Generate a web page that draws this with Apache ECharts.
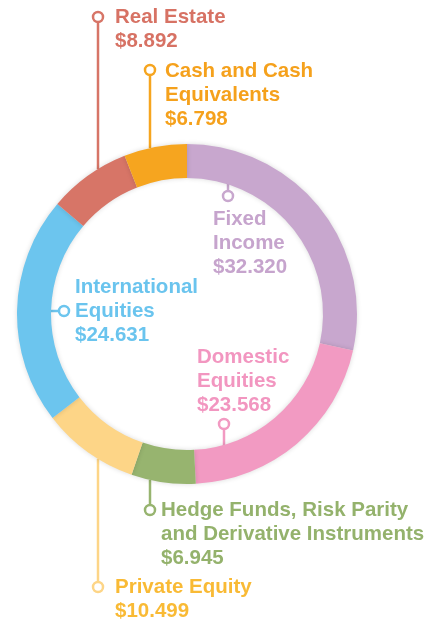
<!DOCTYPE html>
<html>
<head>
<meta charset="utf-8">
<script src="https://cdn.jsdelivr.net/npm/echarts@6/dist/echarts.min.js"></script>
<style>
  html, body { margin: 0; padding: 0; background: #fff; }
  #chart { width: 447px; height: 623px; }
</style>
</head>
<body>
<div id="chart"></div>
<script>
// data
var names = ['Fixed Income', 'Domestic Equities', 'Hedge Funds, Risk Parity and Derivative Instruments',
  'Private Equity', 'International Equities', 'Real Estate', 'Cash and Cash Equivalents'];
var labelLines = ['Fixed\nIncome', 'Domestic\nEquities', 'Hedge Funds, Risk Parity\nand Derivative Instruments',
  'Private Equity', 'International\nEquities', 'Real Estate', 'Cash and Cash\nEquivalents'];
var values = [32.320, 23.568, 6.945, 10.499, 24.631, 8.892, 6.798];

var sliceColors = ['#C8A7CE', '#F29AC2', '#97B46F', '#FDD587', '#6CC5EE', '#D77567', '#F6A51F'];
var textColors = ['#C6A4CD', '#F296C0', '#94B26C', '#F9BA35', '#6AC4EE', '#D77264', '#F5A11C'];

// layout: circle marker position, text position, line direction
var cx = 187, cy = 314, rIn = 136, rOut = 170;
var lineH = 24;
var anchors = [
  { px: 228, py: 196, tx: 213, ty: 219, dir: 'up', ring: 'inner' },
  { px: 224, py: 424, tx: 197, ty: 357, dir: 'down', ring: 'inner' },
  { px: 150, py: 510, tx: 161, ty: 510, dir: 'up', ring: 'outer' },
  { px: 98, py: 587, tx: 115, ty: 587, dir: 'up', ring: 'outer' },
  { px: 64, py: 311, tx: 75, ty: 287, dir: 'left', ring: 'inner' },
  { px: 98, py: 17, tx: 115, ty: 17, dir: 'down', ring: 'outer' },
  { px: 150, py: 70, tx: 165, ty: 71, dir: 'down', ring: 'outer' }
];

function edgePoint(a) {
  var r = a.ring == 'inner' ? rIn + 4 : rOut;
  if (a.dir == 'left') {
    var dy = a.py - cy;
    return [cx - Math.sqrt(r * r - dy * dy), a.py];
  }
  var dx = a.px - cx;
  var h = Math.sqrt(r * r - dx * dx);
  var up = a.dir == 'up';
  var y;
  if (a.ring == 'inner') y = up ? cy - h : cy + h;
  else y = up ? cy + h : cy - h;
  return [a.px, y];
}

var pieData = names.map(function (n, i) {
  return {
    name: n,
    value: values[i],
    itemStyle: { color: sliceColors[i] },
    label: { color: textColors[i] },
    labelLine: { lineStyle: { color: sliceColors[i] } }
  };
});

var markers = anchors.map(function (a, i) {
  return {
    type: 'circle',
    z: 100,
    shape: { cx: a.px, cy: a.py, r: 5 },
    style: { fill: '#fff', stroke: sliceColors[i], lineWidth: 2.5 }
  };
});

var myChart = echarts.init(document.getElementById('chart'));
var option = {
  animation: false,
  graphic: markers,
  series: [
    {
      type: 'pie',
      center: [cx, cy],
      radius: [rIn, rOut],
      startAngle: 90,
      clockwise: true,
      avoidLabelOverlap: false,
      data: pieData,
      itemStyle: {
        shadowBlur: 5,
        shadowColor: 'rgba(0,0,0,0.15)'
      },
      label: {
        show: true,
        position: 'outside',
        fontFamily: 'Liberation Sans, Arial, sans-serif',
        fontWeight: 'bold',
        fontSize: 20.5,
        lineHeight: lineH,
        formatter: function (p) {
          return labelLines[p.dataIndex] + '\n$' + p.value.toFixed(3);
        }
      },
      labelLine: {
        show: true,
        length: 5,
        length2: 5,
        lineStyle: { width: 2.5 }
      },
      labelLayout: function (params) {
        var a = anchors[params.dataIndex];
        var e = edgePoint(a);
        return {
          x: a.tx,
          y: a.ty - lineH / 2,
          align: 'left',
          verticalAlign: 'top',
          labelLinePoints: [e, [(e[0] + a.px) / 2, (e[1] + a.py) / 2], [a.px, a.py]]
        };
      },
      emphasis: { disabled: true }
    }
  ]
};
myChart.setOption(option);
</script>
</body>
</html>
